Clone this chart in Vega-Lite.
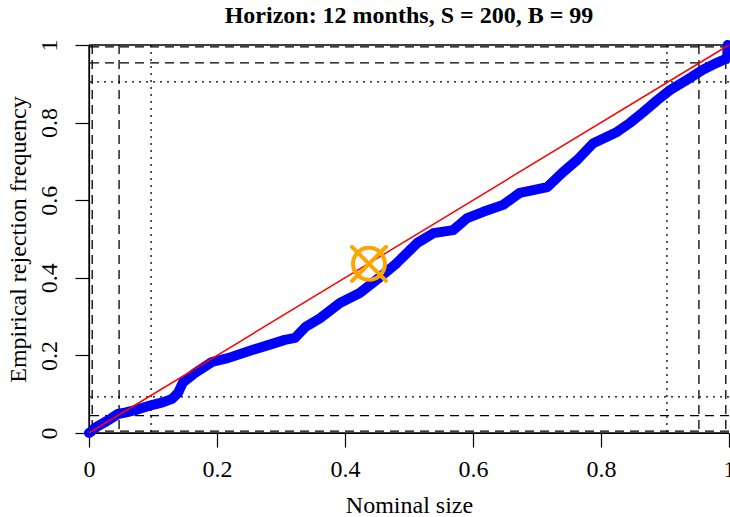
{
  "$schema": "https://vega.github.io/schema/vega-lite/v6.json",
  "autosize": "none",
  "width": 640,
  "height": 388,
  "padding": {"left": 89, "top": 45, "right": 1, "bottom": 84},
  "background": "white",
  "title": {
    "text": "Horizon: 12 months, S = 200, B = 99",
    "font": "Liberation Serif",
    "fontSize": 24,
    "fontWeight": "bold",
    "color": "black",
    "anchor": "middle",
    "frame": "group",
    "offset": 11
  },
  "config": {
    "view": {"stroke": null},
    "axis": {
      "grid": false,
      "domainColor": "black",
      "domainWidth": 1.2,
      "tickColor": "black",
      "tickWidth": 1.2,
      "tickSize": 14,
      "labelFont": "Liberation Serif",
      "labelFontSize": 24,
      "labelColor": "black",
      "labelFlush": false,
      "labelOverlap": false,
      "titleFont": "Liberation Serif",
      "titleFontSize": 24,
      "titleFontWeight": "normal",
      "titleColor": "black"
    }
  },
  "datasets": {
    "curve": [
      {"nominal": 0.0, "empirical": 0.0},
      {"nominal": 0.003, "empirical": 0.003},
      {"nominal": 0.009, "empirical": 0.013},
      {"nominal": 0.025, "empirical": 0.028},
      {"nominal": 0.035, "empirical": 0.038},
      {"nominal": 0.045, "empirical": 0.049},
      {"nominal": 0.058, "empirical": 0.053},
      {"nominal": 0.072, "empirical": 0.059},
      {"nominal": 0.098, "empirical": 0.072},
      {"nominal": 0.115, "empirical": 0.079},
      {"nominal": 0.13, "empirical": 0.088},
      {"nominal": 0.139, "empirical": 0.103},
      {"nominal": 0.147, "empirical": 0.131},
      {"nominal": 0.166, "empirical": 0.155},
      {"nominal": 0.192, "empirical": 0.183},
      {"nominal": 0.217, "empirical": 0.193},
      {"nominal": 0.255, "empirical": 0.214},
      {"nominal": 0.285, "empirical": 0.229},
      {"nominal": 0.306, "empirical": 0.24},
      {"nominal": 0.322, "empirical": 0.245},
      {"nominal": 0.338, "empirical": 0.273},
      {"nominal": 0.361, "empirical": 0.296},
      {"nominal": 0.392, "empirical": 0.335},
      {"nominal": 0.423, "empirical": 0.361},
      {"nominal": 0.455, "empirical": 0.402},
      {"nominal": 0.481, "empirical": 0.438},
      {"nominal": 0.513, "empirical": 0.49},
      {"nominal": 0.538, "empirical": 0.515},
      {"nominal": 0.569, "empirical": 0.523},
      {"nominal": 0.591, "empirical": 0.554},
      {"nominal": 0.616, "empirical": 0.57},
      {"nominal": 0.647, "empirical": 0.588},
      {"nominal": 0.673, "empirical": 0.619},
      {"nominal": 0.694, "empirical": 0.626},
      {"nominal": 0.716, "empirical": 0.634},
      {"nominal": 0.741, "empirical": 0.673},
      {"nominal": 0.763, "empirical": 0.704},
      {"nominal": 0.788, "empirical": 0.747},
      {"nominal": 0.825, "empirical": 0.776},
      {"nominal": 0.845, "empirical": 0.799},
      {"nominal": 0.866, "empirical": 0.827},
      {"nominal": 0.888, "empirical": 0.858},
      {"nominal": 0.908, "empirical": 0.884},
      {"nominal": 0.934, "empirical": 0.91},
      {"nominal": 0.959, "empirical": 0.936},
      {"nominal": 0.981, "empirical": 0.954},
      {"nominal": 0.997, "empirical": 0.966},
      {"nominal": 0.998, "empirical": 1.0}
    ],
    "diagonal": [
      {"nominal": 0, "empirical": 0},
      {"nominal": 1, "empirical": 1}
    ],
    "vrefs": [
      {"value": 0, "style": "solid"},
      {"value": 0.005, "style": "dashed"},
      {"value": 0.047, "style": "dashed"},
      {"value": 0.097, "style": "dotted"},
      {"value": 0.903, "style": "dotted"},
      {"value": 0.953, "style": "dashed"},
      {"value": 0.995, "style": "dashed"}
    ],
    "hrefs": [
      {"value": 0, "style": "solid"},
      {"value": 1, "style": "solid"},
      {"value": 0.005, "style": "dashed"},
      {"value": 0.045, "style": "dashed"},
      {"value": 0.093, "style": "dotted"},
      {"value": 0.905, "style": "dotted"},
      {"value": 0.954, "style": "dashed"},
      {"value": 0.995, "style": "dashed"}
    ],
    "marker": [
      {"nominal": 0.4375, "empirical": 0.436}
    ]
  },
  "layer": [
    {
      "data": {"name": "vrefs"},
      "mark": {"type": "rule", "color": "black", "strokeWidth": 1.3},
      "encoding": {
        "x": {
          "field": "value",
          "type": "quantitative",
          "scale": {"domain": [0, 1], "nice": false, "zero": false},
          "axis": {
            "values": [0, 0.2, 0.4, 0.6, 0.8, 1],
            "format": "~g",
            "title": "Nominal size",
            "labelBaseline": "alphabetic",
            "labelPadding": 29,
            "titleBaseline": "alphabetic",
            "titleY": 79
          }
        },
        "strokeDash": {
          "field": "style",
          "type": "nominal",
          "scale": {"domain": ["solid", "dashed", "dotted"], "range": [[1, 0], [9, 6], [2, 5]]},
          "legend": null
        }
      }
    },
    {
      "data": {"name": "hrefs"},
      "mark": {"type": "rule", "color": "black", "strokeWidth": 1.3},
      "encoding": {
        "y": {
          "field": "value",
          "type": "quantitative",
          "scale": {"domain": [0, 1], "nice": false, "zero": false},
          "axis": {
            "values": [0, 0.2, 0.4, 0.6, 0.8, 1],
            "format": "~g",
            "title": "Empirical rejection frequency",
            "labelAngle": -90,
            "labelAlign": "center",
            "labelBaseline": "alphabetic",
            "labelPadding": 19,
            "titleBaseline": "alphabetic",
            "titleX": -64
          }
        },
        "strokeDash": {
          "field": "style",
          "type": "nominal",
          "scale": {"domain": ["solid", "dashed", "dotted"], "range": [[1, 0], [9, 6], [2, 5]]},
          "legend": null
        }
      }
    },
    {
      "data": {"name": "curve"},
      "mark": {"type": "line", "color": "#0000FF", "strokeWidth": 10, "strokeCap": "round", "strokeJoin": "round"},
      "encoding": {
        "x": {"field": "nominal", "type": "quantitative"},
        "y": {"field": "empirical", "type": "quantitative"}
      }
    },
    {
      "data": {"name": "diagonal"},
      "mark": {"type": "line", "color": "#FF0000", "strokeWidth": 1.5},
      "encoding": {
        "x": {"field": "nominal", "type": "quantitative"},
        "y": {"field": "empirical", "type": "quantitative"}
      }
    },
    {
      "data": {"name": "marker"},
      "mark": {"type": "point", "shape": "circle", "filled": false, "color": "#FFA500", "strokeWidth": 4, "size": 1024, "opacity": 1},
      "encoding": {
        "x": {"field": "nominal", "type": "quantitative"},
        "y": {"field": "empirical", "type": "quantitative"}
      }
    },
    {
      "data": {"name": "marker"},
      "mark": {"type": "point", "shape": "M-1,-1L1,1M-1,1L1,-1", "filled": false, "color": "#FFA500", "strokeWidth": 4, "strokeCap": "round", "size": 1156, "opacity": 1},
      "encoding": {
        "x": {"field": "nominal", "type": "quantitative"},
        "y": {"field": "empirical", "type": "quantitative"}
      }
    }
  ]
}
